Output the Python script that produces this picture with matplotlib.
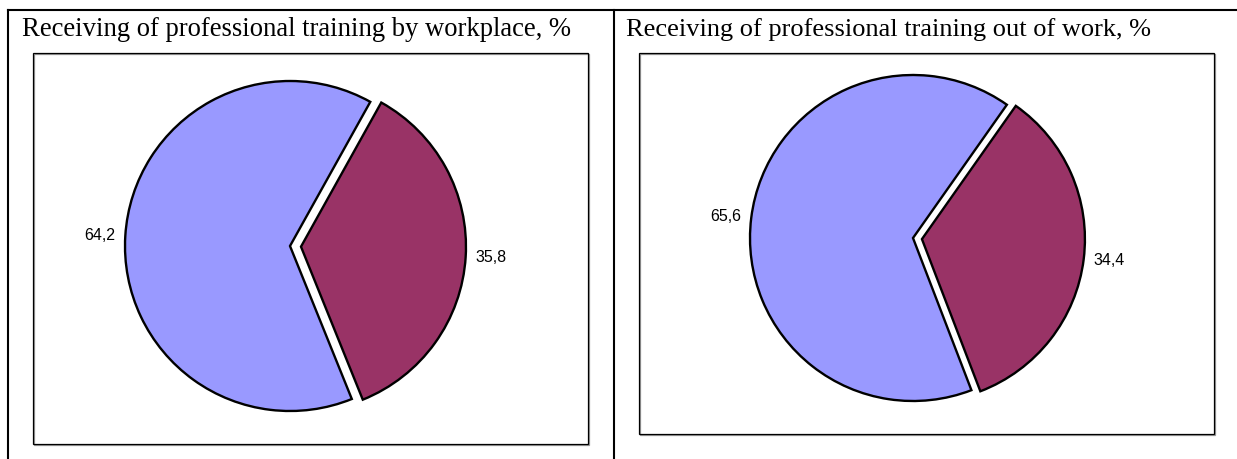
import matplotlib
matplotlib.use("Agg")
import matplotlib.pyplot as plt
from matplotlib.patches import Rectangle
from matplotlib.lines import Line2D

# ---- data ----
titles = ["Receiving of professional training by workplace, %",
          "Receiving of professional training out of work, %"]
left_values = [64.2, 35.8]
right_values = [65.6, 34.4]
left_labels = ["64,2", "35,8"]
right_labels = ["65,6", "34,4"]
colors = ["#9999FF", "#993366"]

W, H = 1237, 459
fig = plt.figure(figsize=(W / 100, H / 100), dpi=100)
ax = fig.add_axes([0, 0, 1, 1])

def py(y):
    return H - y

# table lines
ax.add_line(Line2D([7.5, W], [py(9.5), py(9.5)], color="black", lw=1.5))
ax.add_line(Line2D([7.5, 7.5], [py(9.5), 0], color="black", lw=1.5))
ax.add_line(Line2D([613.5, 613.5], [py(9.5), 0], color="black", lw=1.5))

# inner boxes (with light grey shadow like the original)
ax.add_patch(Rectangle((33.5, py(445)), 555, 391, fill=False, ec="#999999", lw=0.9))
ax.add_patch(Rectangle((32.5, py(444)), 555, 391, fill=False, ec="black", lw=0.9))
ax.add_patch(Rectangle((639.5, py(435)), 575, 381, fill=False, ec="#999999", lw=0.9))
ax.add_patch(Rectangle((638.5, py(434)), 575, 381, fill=False, ec="black", lw=0.9))

# titles
ax.text(22, py(36), titles[0], fontsize=19.2, family="Liberation Serif", va="baseline", ha="left")
ax.text(626, py(36), titles[1], fontsize=19.0, family="Liberation Serif", va="baseline", ha="left")

wp = dict(edgecolor="black", linewidth=1.7)
tp = dict(fontsize=11.5, family="Liberation Sans")

def draw(values, labels, center, radius, expl, start):
    _, texts = ax.pie(values, labels=labels, colors=colors, explode=[0, expl],
                      startangle=start, counterclock=False, center=center,
                      radius=radius, labeldistance=1.06, wedgeprops=wp,
                      textprops=tp, frame=True)
    for t in texts:
        x, _ = t.get_position()
        t.set_ha("right" if x < center[0] else "left")

draw(left_values, left_labels, (290, py(246)), 165, 11, -68)
draw(right_values, right_labels, (913, py(238)), 163, 9, -69)

ax.set_xlim(0, W)
ax.set_ylim(0, H)
ax.set_aspect("auto")
ax.axis("off")

fig.savefig("out.png", dpi=100)
